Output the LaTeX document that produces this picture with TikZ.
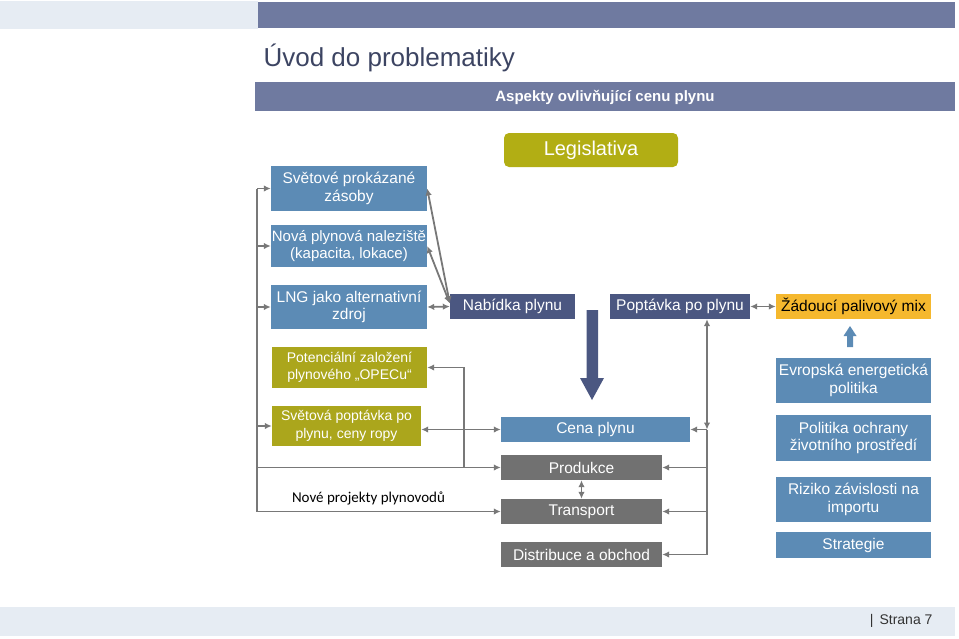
\documentclass[tikz,border=0pt]{standalone}
\usepackage{fontspec}
\setmainfont{Liberation Sans}
\newfontfamily\carlito{Carlito}
\usetikzlibrary{positioning, arrows.meta}
\definecolor{bandlight}{HTML}{E6ECF3}
\definecolor{bandblue}{HTML}{6F7AA0}
\definecolor{titlecol}{HTML}{3C4462}
\definecolor{steel}{HTML}{5C8BB5}
\definecolor{navy}{HTML}{4B5781}
\definecolor{boxgray}{HTML}{717171}
\definecolor{olive}{HTML}{B2AE14}
\definecolor{olivebox}{HTML}{ABA61C}
\definecolor{mixcol}{HTML}{F5B82E}
\definecolor{linegray}{HTML}{787878}
\tikzset{
  box/.style={inner sep=0pt, align=center, text=white, font=\fontsize{15.5}{17.5}\selectfont},
  bluebox/.style={box, fill=steel},
  navybox/.style={box, fill=navy, minimum height=25pt},
  graybox/.style={box, fill=boxgray, minimum width=161pt, minimum height=25pt},
  olbox/.style={box, fill=olivebox, font=\fontsize{14}{17.5}\selectfont},
  link/.style={draw=linegray, line width=1.8pt, >={Latex[length=7pt,width=6.5pt]}}}

\begin{document}
\begin{tikzpicture}[x=1pt, y=-1pt]
\useasboundingbox (0,0) rectangle (959,638);
% page frame
\fill[bandlight] (0,1) rectangle (258,29);
\fill[bandblue] (258,2) rectangle (955,28);
\fill[bandlight] (0,607) rectangle (955,636);
\node[anchor=west, text=titlecol, font=\fontsize{26}{30}\selectfont] (title) at (260,58) {Úvod do problematiky};
\fill[bandblue] (255,82) rectangle (955,111);
\node[text=white, font=\bfseries\fontsize{15}{18}\selectfont] (aspekty) at (605,97) {Aspekty ovlivňující cenu plynu};
\node[anchor=east, text=black!80, font=\fontsize{14}{17}\selectfont] (strana) at (936,621) {|\hspace{6pt}Strana 7};

\node[box, fill=olive, rounded corners=5pt, minimum width=174pt, minimum height=34pt,
  font=\fontsize{20}{24}\selectfont] (legis) at (591,150) {Legislativa};

% left column
\node[bluebox, minimum width=156pt, minimum height=45pt] (zasoby) at (349,188.5) {Světové prokázané\\zásoby};
\node[bluebox, minimum width=156pt, minimum height=42pt, font=\fontsize{15}{17.5}\selectfont] (nalez) at (349,246) {Nová plynová naleziště\\(kapacita, lokace)};
\node[bluebox, minimum width=156pt, minimum height=44pt] (lng) at (349,307) {LNG jako alternativní\\zdroj};
\node[olbox, minimum width=155pt, minimum height=41pt] (opec) at (349.5,367.5) {Potenciální založení\\plynového „OPECu“};
\node[olbox, minimum width=149pt, minimum height=40pt] (svpop) at (346.5,426) {Světová poptávka po\\plynu, ceny ropy};
\node[font=\carlito\fontsize{15}{18}\selectfont] (projekty) at (368.5,498) {Nové projekty plynovodů};

% middle
\node[navybox, minimum width=125pt] (nab) at (512.5,306.5) {Nabídka plynu};
\node[navybox, minimum width=140pt] (pop) at (680,306.5) {Poptávka po plynu};
\node[bluebox, minimum width=189pt, minimum height=25pt] (cena) at (595.5,429.5) {Cena plynu};
\node[graybox] (prod) at (581.5,467.5) {Produkce};
\node[graybox] (trans) at (581.5,511.5) {Transport};
\node[graybox] (dist) at (581.5,554.5) {Distribuce a obchod};

% right column
\node[box, fill=mixcol, text=black, minimum width=155pt, minimum height=25pt] (mix) at (853.5,306.5) {Žádoucí palivový mix};
\node[bluebox, minimum width=155pt, minimum height=45pt] (evrop) at (853.5,380.5) {Evropská energetická\\politika};
\node[bluebox, minimum width=155pt, minimum height=46pt] (ochrana) at (853.5,438) {Politika ochrany\\životního prostředí};
\node[bluebox, minimum width=155pt, minimum height=45pt] (riziko) at (853.5,499.5) {Riziko závislosti na\\importu};
\node[bluebox, minimum width=155pt, minimum height=26pt] (strat) at (853.5,545) {Strategie};

% block arrows
\fill[navy] (586.5,310) -- (598,310) -- (598,378) -- (604,378) -- (592,400)
  -- (580,378) -- (586.5,378) -- cycle;
\fill[steel] (847,347) -- (853,347) -- (853,336) -- (856.5,336) -- (850,326)
  -- (843.5,336) -- (847,336) -- cycle;

% connectors
\coordinate (lbus) at (257,188.5);
\coordinate (mbus) at (464,467.5);
\coordinate (rbus) at (707,429.5);
\draw[link,->] (lbus) -- (zasoby.west);
\draw[link,->] (lbus |- nalez.west) -- (nalez.west);
\draw[link,->] (lbus |- lng.west) -- (lng.west);
\draw[link,->] (lbus |- svpop.west) -- (svpop.west);
\draw[link,->] (lbus |- prod.west) -- (prod.west);
\draw[link,->] (lbus) -- (lbus |- trans.west) -- (trans.west);
\draw[link,->] (mbus) |- (opec.east);
\draw[link,<->] (svpop.east |- cena.west) -- (cena.west);
\draw[link,<->] (zasoby.east) -- ([yshift=3pt]nab.west);
\draw[link,<->] (nalez.east) -- ([yshift=3pt]nab.west);
\draw[link,<->] (lng.east) -- (nab.west);
\draw[link,<->] (pop.east) -- (mix.west);
\draw[link,<->] (pop.south -| rbus) -- (rbus);
\draw[link,->] (rbus) -- (cena.east);
\draw[link,->] (rbus) -- (rbus |- dist.east) -- (dist.east);
\draw[link,->] (rbus |- prod.east) -- (prod.east);
\draw[link,->] (rbus |- trans.east) -- (trans.east);
\draw[link,<->] (prod.south) -- (trans.north);
\end{tikzpicture}
\end{document}
